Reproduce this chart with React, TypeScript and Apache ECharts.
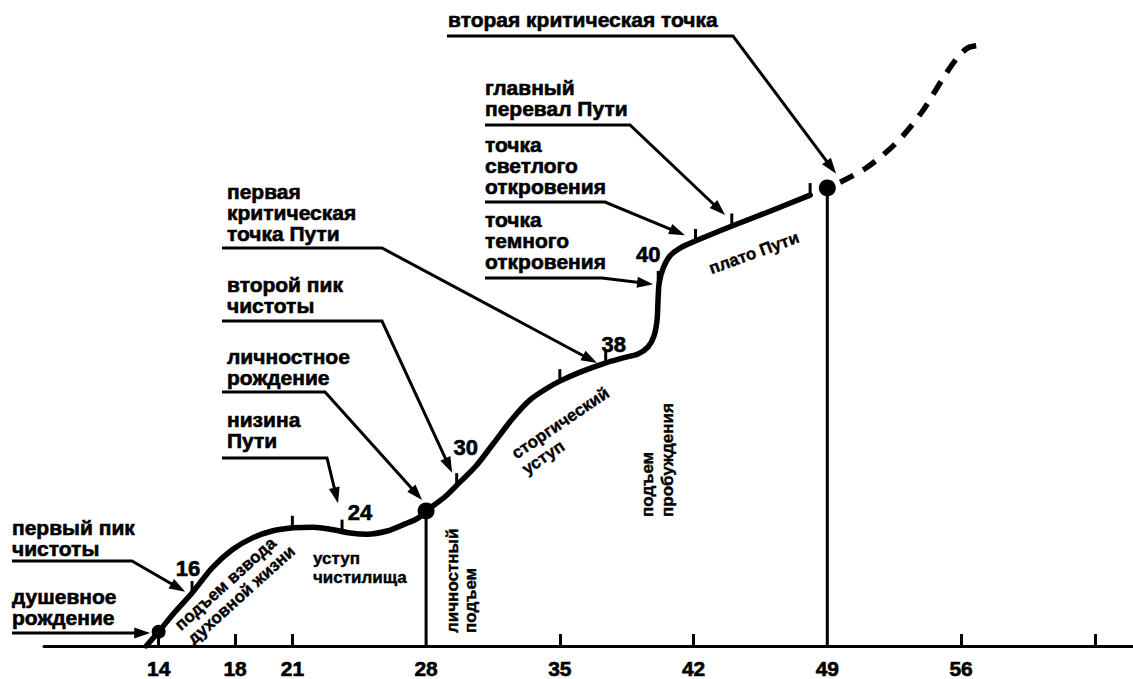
import React, { useEffect, useRef } from "react";
import * as echarts from "echarts";

// ---- data ----
const ageTicks = [14, 18, 21, 35, 42, 56, 63];
const ageLabels = [14, 18, 21, 28, 35, 42, 49, 56];

const pathAges = [13.35, 14, 14.86, 15.75, 16.8, 17.85, 18.89, 19.94, 21.04, 22.09, 23.13, 24.02, 24.91, 25.96, 26.9, 27.58, 28, 28.99, 29.78, 30.62, 31.51, 32.55, 33.44, 34.33, 35, 36.06, 37.37, 38.31, 39.09, 39.62, 39.93, 40.09, 40.14, 40.2, 40.41, 40.77, 41.29, 42.18, 43.91, 46.0, 48.1];
const pathLevels = [0, 2.2, 5.3, 8.2, 12.1, 14.9, 16.7, 17.8, 18.3, 18.4, 18.0, 17.5, 17.3, 17.8, 18.9, 19.8, 20.9, 23.1, 25.4, 27.9, 31.3, 35.3, 38.1, 39.9, 41.0, 42.4, 43.8, 44.6, 45.2, 46.3, 48.0, 50.5, 53.6, 56.2, 58.5, 60.4, 61.6, 62.8, 64.9, 67.3, 69.8];

const futureAges = [49.67, 51.08, 52.65, 53.96, 55.06, 55.79, 56.37, 57.1];
const futureLevels = [71.8, 74.1, 78.0, 82.7, 87.9, 91.0, 92.6, 93.0];

const milestoneAges = [14, 28, 49];
const milestoneLevels = [2.2, 20.9, 70.9];

const markAges = [15.75, 21, 23.6, 29.6, 35, 37.4, 40.15, 42.1, 44.0, 48.1];
const markLevels = [8.2, 18.3, 17.7, 24.9, 41.0, 43.8, 56.2, 62.7, 65.1, 69.8];
const markLabels = ["16", "", "24", "30", "", "38", "40", "", "", ""];

const calloutTexts = [
  "вторая критическая точка",
  "главный\nперевал Пути",
  "точка\nсветлого\nоткровения",
  "точка\nтемного\nоткровения",
  "первая\nкритическая\nточка Пути",
  "второй пик\nчистоты",
  "личностное\nрождение",
  "низина\nПути",
  "первый пик\nчистоты",
  "душевное\nрождение",
];
const calloutAges = [49.46, 43.65, 41.55, 39.88, 36.95, 29.36, 27.79, 23.39, 15.39, 13.56];
const calloutLevels = [73.1, 66.7, 63.6, 56.0, 43.8, 26.8, 22.6, 22.1, 8.4, 2.0];

const stageTexts = [
  "подъем взвода\nдуховной жизни",
  "уступ\nчистилища",
  "личностный\nподъем",
  "сторгический\nуступ",
  "подъем\nпробуждения",
  "плато Пути",
];

// ---- layout (pixels) ----
const FONT = "'Liberation Sans', Arial, Helvetica, sans-serif";
const calloutLayout = [
  { x: 448, top: 9, lineY: 36, x0: 447, x1: 733 },
  { x: 485, top: 77, lineY: 125, x0: 485, x1: 630 },
  { x: 485, top: 134, lineY: 202, x0: 485, x1: 605 },
  { x: 485, top: 209, lineY: 278, x0: 485, x1: 602 },
  { x: 227, top: 181, lineY: 248, x0: 222, x1: 382 },
  { x: 227, top: 274, lineY: 321, x0: 222, x1: 382 },
  { x: 227, top: 346, lineY: 392, x0: 222, x1: 325 },
  { x: 227, top: 409, lineY: 458, x0: 222, x1: 327 },
  { x: 12, top: 517, lineY: 561, x0: 12, x1: 132 },
  { x: 12, top: 586, lineY: 633, x0: 12, x1: 110 },
];
const stageLayout = [
  { x: 171, y: 620, rot: 42, align: "left", va: "top", lh: 19 },
  { x: 313, y: 549, rot: 0, align: "left", va: "top", lh: 19 },
  { x: 443, y: 633, rot: 90, align: "left", va: "top", lh: 18 },
  { x: 508, y: 447, rot: 34, align: "left", va: "top", lh: 19 },
  { x: 637, y: 517, rot: 90, align: "left", va: "top", lh: 20 },
  { x: 754, y: 253, rot: 20, align: "center", va: "middle", lh: 19 },
];
const markLabelOffsets = [
  [-4, -25], [0, 0], [18, -19], [9, -38], [0, 0], [8, -19], [-10, -28], [0, 0], [0, 0], [0, 0],
];

export default function App() {
  const ref = useRef<HTMLDivElement>(null);

  useEffect(() => {
    if (!ref.current) return;
    const chart = echarts.init(ref.current, null, { renderer: "svg" });

    const pair = (xs: number[], ys: number[]) => xs.map((x, i) => [x, ys[i]]);
    const boldText = { textBorderColor: "#000", textBorderWidth: 0.6 };

    chart.setOption({
      animation: false,
      backgroundColor: "#ffffff",
      grid: { left: 44, right: 0, top: 0, bottom: 33, containLabel: false, outerBoundsMode: "none" },
      xAxis: {
        type: "value",
        min: 8,
        max: 65,
        splitLine: { show: false },
        axisLine: { show: true, lineStyle: { color: "#000", width: 3 } },
        axisTick: {
          show: true,
          inside: true,
          length: 12,
          lineStyle: { color: "#000", width: 3 },
          customValues: ageTicks,
        },
        axisLabel: {
          customValues: ageLabels,
          color: "#000",
          fontSize: 21,
          fontWeight: "bold",
          fontFamily: FONT,
          margin: 12,
          ...boldText,
        },
      },
      yAxis: { type: "value", min: 0, max: 100, show: false },
      series: [
        {
          type: "line",
          data: [[milestoneAges[1], 0], [milestoneAges[1], milestoneLevels[1]]],
          showSymbol: false,
          lineStyle: { color: "#000", width: 3 },
          z: 2,
        },
        {
          type: "line",
          data: [[milestoneAges[2], 0], [milestoneAges[2], milestoneLevels[2]]],
          showSymbol: false,
          lineStyle: { color: "#000", width: 3 },
          z: 2,
        },
        {
          type: "line",
          data: pair(pathAges, pathLevels),
          smooth: 0.3,
          showSymbol: false,
          lineStyle: { color: "#000", width: 5.5, cap: "round" },
          z: 3,
        },
        {
          type: "line",
          data: pair(futureAges, futureLevels),
          smooth: 0.3,
          showSymbol: false,
          lineStyle: { color: "#000", width: 5.5, type: [15, 11] },
          z: 3,
        },
        {
          type: "scatter",
          data: pair(markAges, markLevels),
          symbol: "rect",
          symbolSize: [3, 12],
          symbolOffset: [0, -6],
          itemStyle: { color: "#000", opacity: 1 },
          z: 3,
        },
        {
          type: "scatter",
          data: markAges.map((a, i) => ({
            value: [a, markLevels[i]],
            label: {
              show: markLabels[i] !== "",
              formatter: markLabels[i],
              position: "inside",
              offset: markLabelOffsets[i],
              color: "#000",
              fontSize: 22,
              fontWeight: "bold",
              fontFamily: FONT,
              ...boldText,
            },
          })),
          symbolSize: 1,
          itemStyle: { color: "rgba(0,0,0,0)", opacity: 1 },
          z: 4,
        },
        {
          type: "scatter",
          data: pair(milestoneAges, milestoneLevels),
          symbol: "circle",
          symbolSize: (v: number[]) => (v[0] === milestoneAges[0] ? 14 : 17),
          itemStyle: { color: "#000", opacity: 1 },
          z: 5,
        },
      ],
    });

    const g: any[] = [];
    calloutTexts.forEach((t, i) => {
      const L = calloutLayout[i];
      const tip = chart.convertToPixel({ xAxisIndex: 0, yAxisIndex: 0 }, [calloutAges[i], calloutLevels[i]]) as number[];
      const dx = tip[0] - L.x1;
      const dy = tip[1] - L.lineY;
      const len = Math.sqrt(dx * dx + dy * dy) || 1;
      const ux = dx / len;
      const uy = dy / len;
      const head = 16;
      const half = 5.5;
      const bx = tip[0] - ux * head;
      const by = tip[1] - uy * head;
      g.push({
        type: "text",
        x: L.x,
        y: L.top,
        style: {
          text: t,
          fill: "#000",
          fontSize: 21,
          fontWeight: "bold",
          fontFamily: FONT,
          lineHeight: 21,
          align: "left",
          verticalAlign: "top",
          stroke: "#000",
          lineWidth: 0.6,
        },
      });
      g.push({
        type: "polyline",
        shape: { points: [[L.x0, L.lineY], [L.x1, L.lineY], [bx + ux * 2, by + uy * 2]] },
        style: { stroke: "#000", lineWidth: 3, fill: null },
      });
      g.push({
        type: "polygon",
        shape: {
          points: [
            [tip[0], tip[1]],
            [bx - uy * half, by + ux * half],
            [bx + uy * half, by - ux * half],
          ],
        },
        style: { fill: "#000" },
      });
    });
    stageTexts.forEach((t, i) => {
      const S = stageLayout[i];
      g.push({
        type: "text",
        x: S.x,
        y: S.y,
        rotation: (S.rot * Math.PI) / 180,
        style: {
          text: t,
          fill: "#000",
          fontSize: 17,
          fontWeight: "bold",
          fontFamily: FONT,
          lineHeight: S.lh,
          align: S.align,
          verticalAlign: S.va,
          stroke: "#000",
          lineWidth: 0.4,
        },
      });
    });
    chart.setOption({ graphic: g });

    return () => chart.dispose();
  }, []);

  return (
    <div
      ref={ref}
      style={{ position: "absolute", left: 0, top: 0, width: 1133, height: 679, background: "#fff" }}
    />
  );
}
